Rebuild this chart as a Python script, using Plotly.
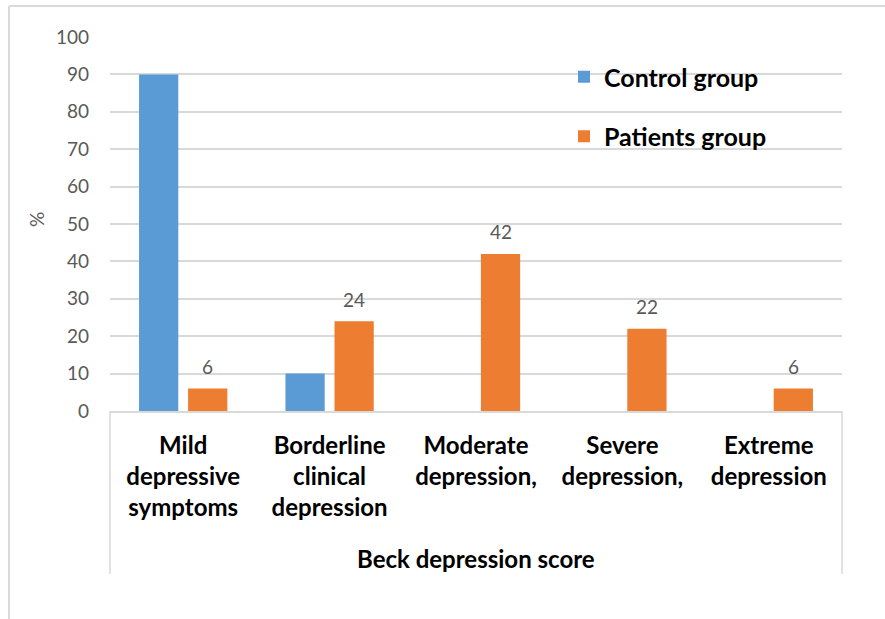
import plotly.graph_objects as go

# Beck depression score categories and the share (%) of each group in them
categories = [
    "Mild<br>depressive<br>symptoms",
    "Borderline<br>clinical<br>depression",
    "Moderate<br>depression,",
    "Severe<br>depression,",
    "Extreme<br>depression",
]
control_pct = [90, 10, 0, 0, 0]
patients_pct = [6, 24, 42, 22, 6]
y_ticks = [0, 10, 20, 30, 40, 50, 60, 70, 80, 90, 100]

BLUE = "#5B9BD5"
ORANGE = "#ED7D31"
GRID = "#D9D9D9"
TICK_GREY = "#595959"
FONT = "Lato"

W, H = 885, 619
L, R, T, B = 110, 43, 37, 208
pw, ph = W - L - R, H - T - B

BARGAP = 0.33
BARGROUPGAP = 0.2
# horizontal offset (px) of the second bar of each group from the category centre
slot_px = pw / len(categories)
second_bar_shift = slot_px * (1 - BARGAP) / 4


def px_x(px):
    return (px - L) / pw


def px_y(py):
    return (H - B - py) / ph


fig = go.Figure()
fig.add_trace(go.Bar(
    x=categories, y=control_pct, name="Control group",
    marker=dict(color=BLUE, line=dict(width=0)),
    legendgroup="c",
))
fig.add_trace(go.Bar(
    x=categories, y=patients_pct, name="Patients group",
    marker=dict(color=ORANGE, line=dict(width=0)),
    legendgroup="p",
))

# value labels above the patients' bars
annotations = [
    dict(x=c, y=v, xref="x", yref="y", text=str(v), showarrow=False,
         xanchor="center", yanchor="middle", xshift=second_bar_shift, yshift=22,
         font=dict(family=FONT, size=19, color=TICK_GREY))
    for c, v in zip(categories, patients_pct)
]
annotations += [
    dict(text="<b>Beck depression score</b>", xref="paper", yref="paper",
         x=0.5, y=px_y(558), xanchor="center", yanchor="middle",
         showarrow=False, font=dict(family=FONT, size=24, color="black")),
    dict(text="%", xref="paper", yref="paper", x=px_x(37), y=px_y(220),
         xanchor="center", yanchor="middle", textangle=-90, showarrow=False,
         font=dict(family=FONT, size=19, color=TICK_GREY)),
]

shapes = [
    # vertical borders of the category label box
    dict(type="line", xref="paper", yref="paper", x0=0, x1=0,
         y0=0, y1=px_y(574), line=dict(color=GRID, width=1.5)),
    dict(type="line", xref="paper", yref="paper", x0=1, x1=1,
         y0=0, y1=px_y(574), line=dict(color=GRID, width=1.5)),
    # outer chart frame (top and left edges)
    dict(type="line", xref="paper", yref="paper", x0=px_x(9), x1=px_x(W + 5),
         y0=px_y(6), y1=px_y(6), line=dict(color=GRID, width=2)),
    dict(type="line", xref="paper", yref="paper", x0=px_x(9), x1=px_x(9),
         y0=px_y(6), y1=px_y(H + 5), line=dict(color=GRID, width=2)),
]

fig.update_layout(
    width=W, height=H,
    margin=dict(l=L, r=R, t=T, b=B, autoexpand=False),
    paper_bgcolor="white", plot_bgcolor="white",
    barmode="group", bargap=BARGAP, bargroupgap=BARGROUPGAP,
    font=dict(family=FONT, color="black"),
    shapes=shapes,
    annotations=annotations,
    showlegend=True,
    legend=dict(
        x=px_x(564), y=px_y(54), xanchor="left", yanchor="top",
        font=dict(family=FONT, size=25, color="black", weight="bold"),
        bgcolor="rgba(0,0,0,0)", tracegroupgap=24,
        traceorder="grouped",
    ),
    xaxis=dict(
        tickmode="array", tickvals=categories,
        ticktext=["<b>" + c + "</b>" for c in categories],
        tickfont=dict(family=FONT, size=24, color="black"),
        showline=True, linecolor=GRID, linewidth=1.5,
        ticks="", ticklabelstandoff=12, automargin=False,
        showgrid=False, zeroline=False,
    ),
    yaxis=dict(
        range=[0, 100], tickvals=y_ticks,
        tickfont=dict(family=FONT, size=19, color=TICK_GREY),
        showgrid=True, gridcolor=GRID, gridwidth=1.5, automargin=False,
        zeroline=False, showline=False, ticks="", ticklabelstandoff=20,
    ),
)

fig.write_html("out.html")
